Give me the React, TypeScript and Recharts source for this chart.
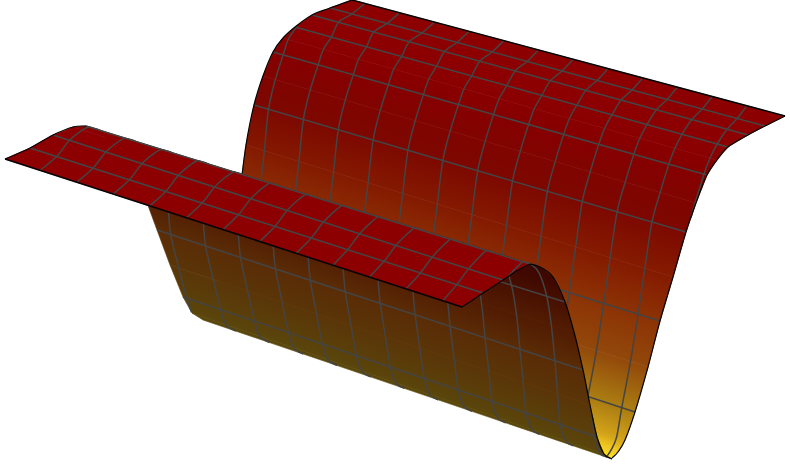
import { Line, LineChart, XAxis, YAxis } from 'recharts'

// profile of the surface across the trough, read at the near (right) and far (left) end
const nearX = [785, 765, 748, 728, 717, 707, 696, 686, 673, 660, 648, 635, 625, 618, 612, 612, 604, 597, 590, 583, 574, 565, 553, 540, 530, 530, 518, 503, 483, 462]
const nearY = [116, 126, 135, 147, 160, 175, 203, 232, 277, 321, 367, 412, 440, 452, 458, 459, 454, 437, 405, 370, 332, 302, 277, 267, 264, 264, 270, 280, 293, 307]
const farX = [352, 330, 312, 295, 283, 273, 263, 254, 246, 240, 232, 222, 214, 210, 207, 203, 192, 183, 170, 157, 146, 130, 112, 98, 86, 86, 73, 53, 30, 5]
const farY = [0, 8, 15, 27, 38, 52, 76, 105, 145, 190, 235, 276, 302, 311, 316, 320, 313, 297, 265, 230, 200, 165, 143, 130, 126, 126, 127, 135, 148, 159]
const shades = [
	'#8d0002', '#8d0002', '#8d0002', '#8c0001', '#8a0000', '#860000', '#800400', '#7d0800', '#841a00', '#8c3205',
	'#92480a', '#aa7c12', '#d0a018', '#f0c820', '#ffe020', '#5a480c', '#5a460c', '#5a400a', '#5a3508', '#5a2c06',
	'#521c03', '#470f00', '#3e0700', '#3a0400', '#3a0400', '#8d0002', '#8d0002', '#8d0002', '#8d0002', '#8d0002',
]
// where mesh line 0 meets each profile node, and how far apart the mesh lines are there
const crossStart = [
	0.088, 0.064, 0.048, 0.025, 0.016, 0.007, 0.002, -0.002, -0.015, -0.03,
	-0.04, -0.05, -0.062, -0.066, -0.07, -0.07, -0.072, -0.075, -0.087, -0.098,
	-0.11, -0.12, -0.13, -0.14, -0.146, -0.146, -0.155, -0.165, -0.183, -0.198,
]
const crossStep = [
	0.0802, 0.0805, 0.081, 0.081, 0.081, 0.0808, 0.0808, 0.0807, 0.081, 0.082,
	0.082, 0.082, 0.0825, 0.0825, 0.0825, 0.0825, 0.0825, 0.082, 0.082, 0.082,
	0.0815, 0.081, 0.081, 0.081, 0.0814, 0.0814, 0.081, 0.0806, 0.0803, 0.0801,
]
const crossLines = [0, 1, 2, 3, 4, 5, 6, 7, 8, 9, 10, 11, 12, 13, 14]

// drawn back to front
const sections = [
	{ name: 'back', from: 0, to: 14, rows: [1, 2, 3, 5, 7, 9, 11], edges: [0], farEdge: true },
	{ name: 'front', from: 15, to: 24, rows: [17, 19, 21], edges: [], farEdge: false },
	{ name: 'plateau', from: 25, to: 29, rows: [25, 27, 28], edges: [29], farEdge: true },
]

const MESH = '#444444'
const EDGE = '#050505'

type Pt = { x: number; y: number }

const at = (node: number, t: number): Pt => ({
	x: nearX[node] + (farX[node] - nearX[node]) * t,
	y: nearY[node] + (farY[node] - nearY[node]) * t,
})

const crossPoints = (j: number, from: number, to: number) => {
	const pts: Pt[] = []
	const tOf = (n: number) => crossStart[n] + crossStep[n] * j
	for (let n = from; n <= to; n++) {
		const t = tOf(n)
		const inside = t >= 0 && t <= 1
		if (n > from) {
			const prev = tOf(n - 1)
			const prevInside = prev >= 0 && prev <= 1
			if (inside !== prevInside) {
				const bound = (inside ? prev : t) < 0 ? 0 : 1
				const f = (bound - prev) / (t - prev)
				const a = at(n - 1, bound)
				const b = at(n, bound)
				pts.push({ x: a.x + (b.x - a.x) * f, y: a.y + (b.y - a.y) * f })
			}
		}
		if (inside) pts.push(at(n, t))
	}
	return pts
}

const nodeRange = (from: number, to: number, t: number) => {
	const pts: Pt[] = []
	for (let n = from; n <= to; n++) pts.push(at(n, t))
	return pts
}

// dots of one series keep their paint order, so strips and lines all go through the dot renderer
const stripDot = (i: number) => (props: any) => {
	const { index, points } = props
	if (index !== 0 || !points) return <g key={`s${i}-${index}`} />
	const [p0, p1, p2, p3] = points
	const ax = (p0.x + p3.x) / 2
	const ay = (p0.y + p3.y) / 2
	const bx = (p1.x + p2.x) / 2
	const by = (p1.y + p2.y) / 2
	const ux = p3.x - p0.x
	const uy = p3.y - p0.y
	const k = ((bx - ax) * ux + (by - ay) * uy) / (ux * ux + uy * uy)
	const id = `strip-${i}`
	return (
		<g key={`s${i}-0`}>
			<defs>
				<linearGradient id={id} gradientUnits='userSpaceOnUse' x1={ax} y1={ay} x2={bx - ux * k} y2={by - uy * k}>
					<stop offset='0' stopColor={shades[i]} />
					<stop offset='1' stopColor={shades[i + 1]} />
				</linearGradient>
			</defs>
			<polygon
				points={points.map((p: Pt) => `${p.x},${p.y}`).join(' ')}
				fill={`url(#${id})`}
				stroke={`url(#${id})`}
				strokeWidth={0.6}
			/>
		</g>
	)
}

const smoothPath = (p: Pt[]) => {
	let d = `M${p[0].x},${p[0].y}`
	for (let i = 0; i < p.length - 1; i++) {
		const a = p[Math.max(i - 1, 0)]
		const b = p[i]
		const c = p[i + 1]
		const e = p[Math.min(i + 2, p.length - 1)]
		d += `C${b.x + (c.x - a.x) / 6},${b.y + (c.y - a.y) / 6} ${c.x - (e.x - b.x) / 6},${c.y - (e.y - b.y) / 6} ${c.x},${c.y}`
	}
	return d
}

const lineDot = (name: string, stroke: string, width: number) => (props: any) => {
	const { index, points } = props
	if (index !== 0 || !points) return <g key={`${name}-${index}`} />
	return <path key={`${name}-0`} d={smoothPath(points)} fill='none' stroke={stroke} strokeWidth={width} />
}

const plain = { dataKey: 'y', stroke: 'none', activeDot: false, isAnimationActive: false, legendType: 'none' } as const

const renderSection = (s: (typeof sections)[number]) => {
	const out: any[] = []
	const addLine = (name: string, data: Pt[], stroke: string, width: number) => {
		out.push(<Line key={name} {...plain} data={data} dot={lineDot(name, stroke, width)} />)
	}
	for (let i = s.from; i < s.to; i++) {
		const data = [at(i, 0), at(i + 1, 0), at(i + 1, 1), at(i, 1)]
		out.push(<Line key={`${s.name}-strip-${i}`} {...plain} data={data} dot={stripDot(i)} />)
	}
	s.rows.forEach((r) => addLine(`${s.name}-row-${r}`, [at(r, 0), at(r, 1)], MESH, 1.5))
	crossLines.forEach((j) => {
		const pts = crossPoints(j, s.from, s.to)
		if (pts.length > 1) addLine(`${s.name}-cross-${j}`, pts, MESH, 1.5)
	})
	s.edges.forEach((r) => addLine(`${s.name}-edge-${r}`, [at(r, 0), at(r, 1)], EDGE, 1.5))
	addLine(`${s.name}-near`, nodeRange(s.from, s.to, 0), EDGE, 1.2)
	if (s.farEdge) addLine(`${s.name}-far`, nodeRange(s.from, s.to, 1), EDGE, 1.2)
	return out
}

export default function App() {
	return (
		<div style={{ position: 'absolute', left: 0, top: 0, width: 790, height: 468, background: '#fff' }}>
			<LineChart width={790} height={468} margin={{ top: 0, right: 0, bottom: 0, left: 0 }}>
				<XAxis type='number' dataKey='x' domain={[0, 790]} hide allowDataOverflow />
				<YAxis type='number' dataKey='y' domain={[0, 468]} reversed hide allowDataOverflow />
				{sections.map(renderSection)}
			</LineChart>
		</div>
	)
}
